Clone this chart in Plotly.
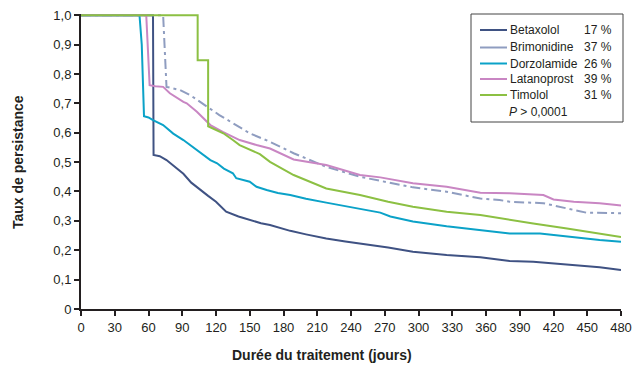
import plotly.graph_objects as go

# ---------------- data ----------------
days_betaxolol = [0, 64, 64.5, 70, 76, 83, 91, 98, 106, 113, 120, 129, 140, 150, 160, 168,
                  178, 186, 200, 218, 235, 248, 262, 273, 295, 325, 355, 381, 402, 432, 461, 480]
surv_betaxolol = [1.0, 1.0, 0.524, 0.52, 0.507, 0.485, 0.46, 0.43, 0.405, 0.385, 0.365, 0.331,
                  0.315, 0.303, 0.292, 0.286, 0.275, 0.266, 0.254, 0.24, 0.23, 0.223, 0.215,
                  0.209, 0.195, 0.184, 0.176, 0.163, 0.161, 0.152, 0.142, 0.133]

days_brimonidine = [0, 73, 76, 80, 88, 97, 106, 123, 150, 168, 189, 218, 248, 266, 295, 325,
                    355, 372, 381, 411, 432, 449, 480]
surv_brimonidine = [1.0, 1.0, 0.756, 0.752, 0.745, 0.728, 0.705, 0.66, 0.598, 0.569, 0.53,
                    0.484, 0.45, 0.437, 0.414, 0.399, 0.376, 0.371, 0.365, 0.36, 0.342, 0.328, 0.326]

days_dorzolamide = [0, 52, 54, 55.5, 56, 60, 64, 73, 82, 91, 103, 106, 115, 121, 127, 135, 138,
                    150, 156, 165, 175, 186, 200, 218, 235, 248, 266, 275, 295, 325, 355, 381,
                    408, 432, 461, 480]
surv_dorzolamide = [1.0, 1.0, 0.9, 0.7, 0.656, 0.652, 0.643, 0.626, 0.597, 0.575, 0.541, 0.53,
                    0.507, 0.496, 0.478, 0.462, 0.445, 0.433, 0.416, 0.405, 0.395, 0.388, 0.375,
                    0.362, 0.35, 0.342, 0.328, 0.315, 0.298, 0.282, 0.269, 0.257, 0.257, 0.246,
                    0.235, 0.229]

days_latanoprost = [0, 58, 61, 66, 73, 79, 91, 94, 103, 115, 126, 141, 156, 168, 189, 218, 248,
                    266, 295, 325, 355, 381, 411, 420, 438, 461, 476, 480]
surv_latanoprost = [1.0, 1.0, 0.762, 0.758, 0.756, 0.734, 0.705, 0.70, 0.671, 0.626, 0.603,
                    0.575, 0.558, 0.546, 0.509, 0.49, 0.456, 0.448, 0.428, 0.416, 0.396, 0.394,
                    0.388, 0.373, 0.365, 0.36, 0.354, 0.352]

days_timolol = [0, 103.7, 103.7, 113, 113, 120, 126.5, 135, 141, 159, 168, 189, 218, 248, 273,
                295, 325, 355, 381, 402, 432, 461, 480]
surv_timolol = [1.0, 1.0, 0.847, 0.847, 0.622, 0.61, 0.598, 0.575, 0.558, 0.527, 0.501, 0.456,
                0.41, 0.388, 0.365, 0.348, 0.331, 0.32, 0.303, 0.291, 0.274, 0.257, 0.245]

series_names = ["Betaxolol", "Brimonidine", "Dorzolamide", "Latanoprost", "Timolol"]
series_pct = ["17 %", "37 %", "26 %", "39 %", "31 %"]
p_text = "<i>P</i> > 0,0001"

x_ticks = list(range(0, 481, 30))
y_tick_vals = [0, 0.1, 0.2, 0.3, 0.4, 0.5, 0.6, 0.7, 0.8, 0.9, 1.0]
y_tick_text = ["0", "0,1", "0,2", "0,3", "0,4", "0,5", "0,6", "0,7", "0,8", "0,9", "1,0"]

x_title = "Durée du traitement (jours)"
y_title = "Taux de persistance"

# ---------------- styling ----------------
colors = ["#3f5283", "#8f9dc0", "#0ba2c8", "#c986c3", "#8cc043"]
dashes = ["solid", "10px,4px,3px,4px", "solid", "solid", "solid"]
FONT = "Liberation Sans, Arial, sans-serif"
INK = "#231f20"

W, H = 635, 371
ML, MR, MT, MB = 81, 14, 14, 62
PW, PH = W - ML - MR, H - MT - MB


def px_x(px):
    return (px - ML) / PW


def px_y(py):
    return (H - MB - py) / PH


fig = go.Figure()
all_days = [days_betaxolol, days_brimonidine, days_dorzolamide, days_latanoprost, days_timolol]
all_surv = [surv_betaxolol, surv_brimonidine, surv_dorzolamide, surv_latanoprost, surv_timolol]
for name, d, s, c, dash in zip(series_names, all_days, all_surv, colors, dashes):
    fig.add_trace(go.Scatter(x=d, y=s, mode="lines", name=name,
                             line=dict(color=c, width=2, dash=dash),
                             showlegend=False, hoverinfo="x+y+name"))

shapes = []
annotations = []

# legend box
shapes.append(dict(type="rect", xref="paper", yref="paper",
                   x0=px_x(471), x1=px_x(623), y0=px_y(122), y1=px_y(14),
                   line=dict(color="#444444", width=1), fillcolor="white", layer="above"))
row_y = [30, 47.5, 63.5, 79, 95]
for name, pct, c, ry in zip(series_names, series_pct, colors, row_y):
    shapes.append(dict(type="line", xref="paper", yref="paper",
                       x0=px_x(480), x1=px_x(507), y0=px_y(ry), y1=px_y(ry),
                       line=dict(color=c, width=2), layer="above"))
    annotations.append(dict(xref="paper", yref="paper", x=px_x(508), y=px_y(ry),
                            text=name, showarrow=False, xanchor="left", yanchor="middle",
                            font=dict(family=FONT, size=12, color=INK)))
    annotations.append(dict(xref="paper", yref="paper", x=px_x(614), y=px_y(ry),
                            text=pct, showarrow=False, xanchor="right", yanchor="middle",
                            font=dict(family=FONT, size=12, color=INK)))
annotations.append(dict(xref="paper", yref="paper", x=px_x(538), y=px_y(112),
                        text=p_text, showarrow=False, xanchor="center", yanchor="middle",
                        font=dict(family=FONT, size=12, color=INK)))

# axis titles
annotations.append(dict(xref="paper", yref="paper", x=px_x(322), y=px_y(355),
                        text="<b>" + x_title + "</b>", showarrow=False,
                        xanchor="center", yanchor="middle",
                        font=dict(family=FONT, size=14, color=INK)))
annotations.append(dict(xref="paper", yref="paper", x=px_x(18), y=px_y(162),
                        text="<b>" + y_title + "</b>", showarrow=False, textangle=-90,
                        xanchor="center", yanchor="middle",
                        font=dict(family=FONT, size=14, color=INK)))

fig.update_layout(
    width=W, height=H,
    margin=dict(l=ML, r=MR, t=MT, b=MB, pad=0, autoexpand=False),
    paper_bgcolor="white", plot_bgcolor="white",
    font=dict(family=FONT, size=13, color=INK),
    shapes=shapes, annotations=annotations,
    xaxis=dict(range=[0, 480], tickmode="array", tickvals=x_ticks,
               ticktext=[str(v) for v in x_ticks], automargin=False,
               showgrid=False, zeroline=False, showline=True, linecolor=INK, linewidth=2,
               ticks="outside", ticklen=5, tickwidth=1.5, tickcolor=INK,
               tickfont=dict(family=FONT, size=13, color=INK)),
    yaxis=dict(range=[0, 1.004], tickmode="array", tickvals=y_tick_vals, ticktext=y_tick_text,
               automargin=False,
               showgrid=False, zeroline=False, showline=True, linecolor=INK, linewidth=2,
               ticks="outside", ticklen=5, tickwidth=1.5, tickcolor=INK,
               tickfont=dict(family=FONT, size=13, color=INK)),
)

fig.write_html("out.html", config={"displayModeBar": False},
               post_script="document.body.style.margin='0';")
